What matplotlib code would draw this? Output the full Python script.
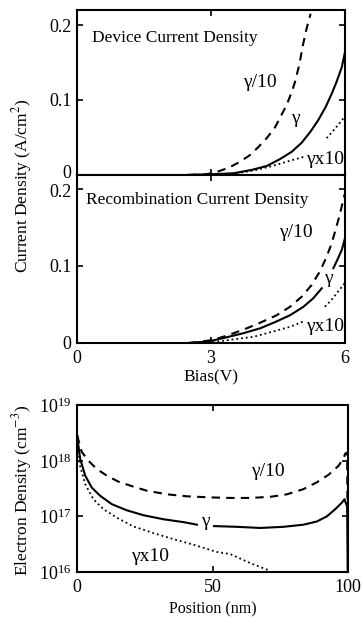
import matplotlib
matplotlib.use("Agg")
import matplotlib.pyplot as plt
from matplotlib.transforms import ScaledTranslation
from matplotlib.ticker import FixedLocator, LogLocator, LogFormatterMathtext, NullLocator

plt.rcParams['font.family'] = ['Liberation Serif', 'DejaVu Serif']
plt.rcParams['mathtext.fontset'] = 'stix'

nan = float('nan')  # breaks in a curve where the original leaves room for a label

# --- device current density (A/cm^2) vs bias (V)
dev_bias_div10 = [2.5, 2.9, 3.13, 3.41, 3.63, 3.86, 4.04, 4.23, 4.42, 4.56, 4.69,
                  4.81, 4.88, 4.98, 5.05, 5.13, 5.23]
dev_j_div10 = [0.0, 0.001, 0.004, 0.010, 0.017, 0.026, 0.036, 0.048, 0.062, 0.078,
               0.093, 0.111, 0.124, 0.148, 0.171, 0.193, 0.215]
dev_bias_g = [2.5, 3.05, 3.5, 3.91, 4.25, 4.54, 4.81, 5.03, 5.23, 5.40, 5.57, 5.70,
              5.81, 5.93, 6.0]
dev_j_g = [0.0, 0.001, 0.0022, 0.0067, 0.012, 0.021, 0.031, 0.043, 0.058, 0.073,
           0.091, 0.108, 0.124, 0.144, 0.164]
dev_bias_x10 = [2.5, 3.1, 3.57, 4.02, 4.4, 4.77, 5.07, nan, 5.59, 5.72, 5.85, 6.0]
dev_j_x10 = [0.0, 0.0007, 0.0022, 0.0067, 0.0124, 0.019, 0.024, nan, 0.049, 0.058,
             0.067, 0.078]

# --- recombination current density
rec_bias_div10 = [2.5, 2.68, 3.05, 3.43, 3.8, 4.13, 4.47, 4.77, 5.03, 5.25, 5.44,
                  5.59, 5.70, 5.80, 5.89, 5.98, 6.0]
rec_j_div10 = [0.0, 0.001, 0.004, 0.011, 0.019, 0.027, 0.036, 0.047, 0.060, 0.075,
               0.093, 0.112, 0.129, 0.149, 0.168, 0.190, 0.194]
rec_bias_g = [2.5, 2.95, 3.35, 3.72, 4.1, 4.47, 4.77, 5.07, 5.29, 5.48, nan, 5.74,
              5.83, 5.93, 6.0]
rec_j_g = [0.0, 0.002, 0.0074, 0.0126, 0.019, 0.028, 0.036, 0.047, 0.058, 0.071, nan,
           0.097, 0.108, 0.121, 0.136]
rec_bias_x10 = [2.5, 3.05, 3.5, 3.95, 4.4, 4.77, 5.07, nan, 5.55, 5.70, 5.85, 6.0]
rec_j_x10 = [0.0, 0.001, 0.0047, 0.008, 0.015, 0.021, 0.028, nan, 0.047, 0.056,
             0.067, 0.078]

# --- electron density (cm^-3) vs position (nm)
pos_div10 = [0, 1.7, 4.2, 7.3, 11, 15.3, 20.2, 25.7, 33.1, 40.5, 49, 56.5, 63.8, 71.2,
             77.4, 83.5, 88.4, 92.7, 96.4, 98.3, 98.9, 99.6, 99.7]
n_div10 = [2.9e18, 1.45e18, 1.0e18, 7.1e17, 5.4e17, 4.2e17, 3.5e17, 2.9e17, 2.5e17,
           2.3e17, 2.2e17, 2.15e17, 2.15e17, 2.25e17, 2.5e17, 3.1e17, 4.1e17, 5.6e17,
           8.1e17, 1.12e18, 1.35e18, 1.4e18, 2.0e17]
pos_g = [0, 1.1, 3.0, 5.4, 8.5, 12.8, 18.3, 24.5, 31.8, 39.2, 44.2, nan, 50.5, 58.9,
         67.5, 76.1, 83.5, 88.4, 92.1, 95.2, 97.7, 98.6, 99.6, 99.8]
n_g = [2.9e18, 1.1e18, 5.4e17, 3.3e17, 2.35e17, 1.66e17, 1.29e17, 1.05e17, 8.9e16,
       7.9e16, 7.1e16, nan, 6.7e16, 6.5e16, 6.2e16, 6.5e16, 7.1e16, 8.1e16, 1.0e17,
       1.35e17, 1.78e17, 2.04e17, 1.5e17, 1.0e16]
pos_x10 = [0, 1.1, 3.0, 6.0, 9.7, 14.6, 20.8, 28.2, 35.5, 42.9, 51.5, 56.5, 63.8, 71.2]
n_x10 = [2.7e18, 8.1e17, 3.8e17, 2.04e17, 1.35e17, 9.5e16, 6.6e16, 5.0e16, 3.9e16,
         3.1e16, 2.3e16, 2.1e16, 1.45e16, 1.05e16]

fig = plt.figure(figsize=(3.62, 6.27), dpi=100)

ax1 = fig.add_axes([0.213, 0.721, 0.740, 0.263])
ax2 = fig.add_axes([0.213, 0.453, 0.740, 0.268])
ax3 = fig.add_axes([0.213, 0.0877, 0.749, 0.266])

tick_fs = 13
text_fs = 12.5
gam_fs = 14


def style(ax):
    for s in ax.spines.values():
        s.set_linewidth(1.5)
    ax.tick_params(direction='in', top=True, right=True, length=4, width=1.2,
                   labelsize=tick_fs)
    ax.tick_params(axis='x', pad=5)
    ax.tick_params(axis='y', pad=4)


# Plot 1: device current
ax1.plot(dev_bias_div10, dev_j_div10, 'k--', lw=1.5, dashes=(4, 3))
ax1.plot(dev_bias_g, dev_j_g, 'k-', lw=1.5)
ax1.plot(dev_bias_x10, dev_j_x10, 'k:', lw=1.3)
ax1.set_xlim(0, 6)
ax1.set_ylim(0, 0.22)
ax1.xaxis.set_major_locator(FixedLocator([0, 3, 6]))
ax1.yaxis.set_major_locator(FixedLocator([0, 0.1, 0.2]))
ax1.set_yticklabels(['0', '0.1', '0.2'])
ax1.set_xticklabels([])
style(ax1)
ax1.text(0.34, 0.183, 'Device Current Density', fontsize=text_fs, va='center')
ax1.text(4.1, 0.123, 'γ/10', fontsize=gam_fs, ha='center', va='center')
ax1.text(4.9, 0.075, 'γ', fontsize=gam_fs, ha='center', va='center')
ax1.text(5.55, 0.02, 'γx10', fontsize=gam_fs, ha='center', va='center')

# Plot 2: recombination current
ax2.plot(rec_bias_div10, rec_j_div10, 'k--', lw=1.5, dashes=(4, 3))
ax2.plot(rec_bias_g, rec_j_g, 'k-', lw=1.5)
ax2.plot(rec_bias_x10, rec_j_x10, 'k:', lw=1.3)
ax2.set_xlim(0, 6)
ax2.set_ylim(0, 0.218)
ax2.xaxis.set_major_locator(FixedLocator([0, 3, 6]))
ax2.yaxis.set_major_locator(FixedLocator([0, 0.1, 0.2]))
ax2.set_yticklabels(['0', '0.1', '0.2'])
ax2.set_xticklabels(['0', '3', '6'])
style(ax2)
ax2.set_xlabel('Bias(V)', fontsize=text_fs, labelpad=2)
ax2.text(0.2, 0.186, 'Recombination Current Density', fontsize=text_fs, va='center')
ax2.text(4.9, 0.143, 'γ/10', fontsize=gam_fs, ha='center', va='center')
ax2.text(5.62, 0.084, 'γ', fontsize=gam_fs, ha='center', va='center')
ax2.text(5.55, 0.021, 'γx10', fontsize=gam_fs, ha='center', va='center')

# the "0" of the top panel and the "0.2" of the middle one sit nearly on top of each other
lab0 = ax1.yaxis.get_major_ticks()[0].label1
lab0.set_transform(lab0.get_transform() + ScaledTranslation(0, 2.5 / 72, fig.dpi_scale_trans))
lab2 = ax2.yaxis.get_major_ticks()[2].label1
lab2.set_transform(lab2.get_transform() + ScaledTranslation(0, -1.0 / 72, fig.dpi_scale_trans))

# Plot 3: electron density
ax3.semilogy(pos_div10, n_div10, 'k--', lw=1.5, dashes=(4, 3))
ax3.semilogy(pos_g, n_g, 'k-', lw=1.5)
ax3.semilogy(pos_x10, n_x10, 'k:', lw=1.3)
ax3.set_xlim(0, 100)
ax3.set_ylim(1e16, 1e19)
ax3.xaxis.set_major_locator(FixedLocator([0, 50, 100]))
ax3.yaxis.set_major_locator(LogLocator(base=10, numticks=5))
ax3.yaxis.set_major_formatter(LogFormatterMathtext())
ax3.yaxis.set_minor_locator(NullLocator())
style(ax3)
ax3.set_xlabel('Position (nm)', fontsize=11.5, labelpad=4)
ax3.text(70.5, 6.3e17, 'γ/10', fontsize=gam_fs, ha='center', va='center')
ax3.text(47.3, 8.0e16, 'γ', fontsize=gam_fs, ha='center', va='center')
ax3.text(27, 1.9e16, 'γx10', fontsize=gam_fs, ha='center', va='center')

fig.text(22 / 362, 1 - 186 / 627, 'Current Density (A/cm$^2$)', rotation=90,
         fontsize=text_fs, ha='center', va='center')
fig.text(22 / 362, 1 - 490 / 627, 'Electron Density (cm$^{-3}$)', rotation=90,
         fontsize=text_fs, ha='center', va='center')

fig.savefig('out.png', dpi=100)
